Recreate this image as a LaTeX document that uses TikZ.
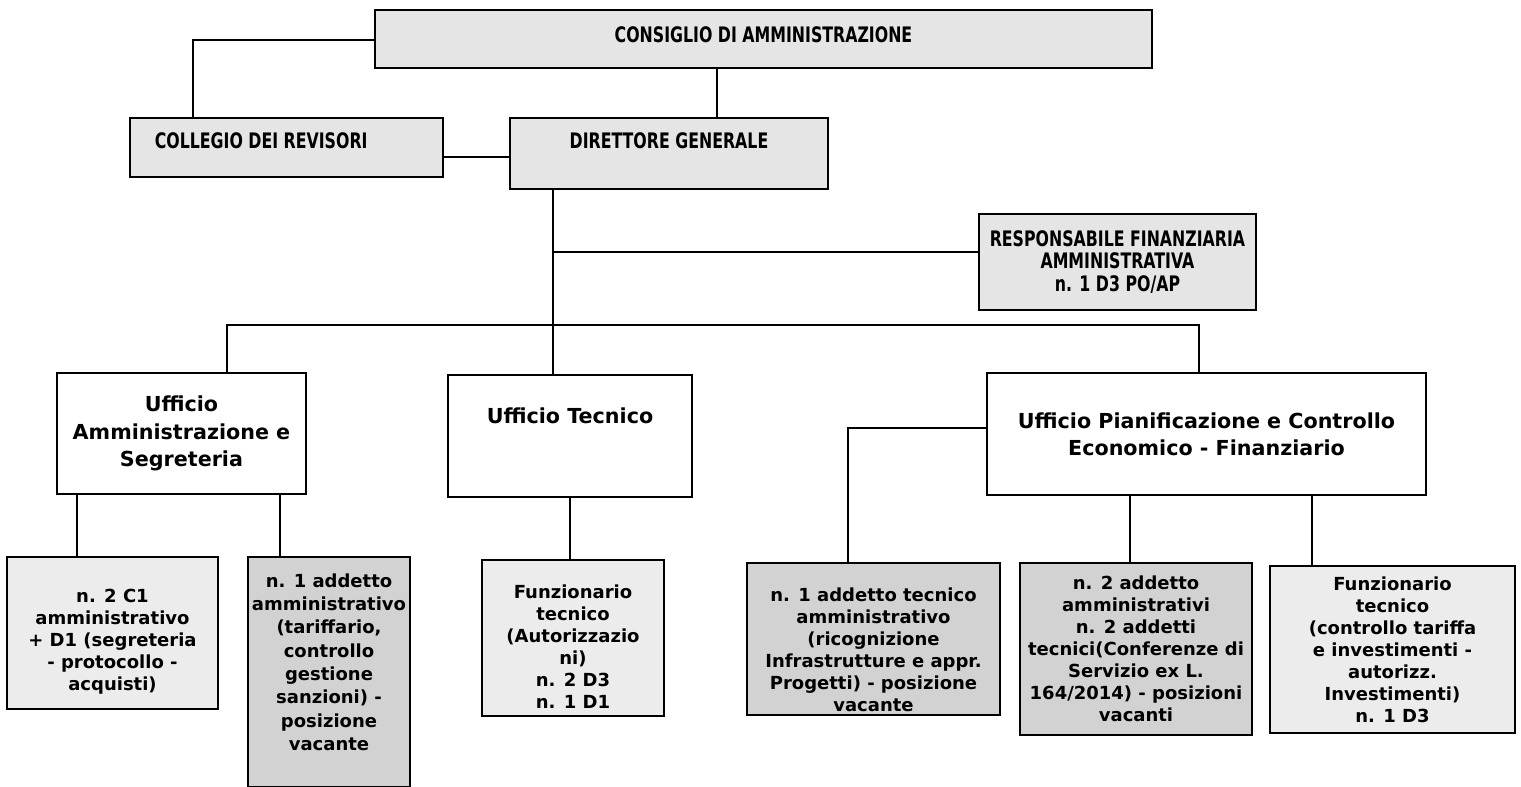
\documentclass[tikz,border=0pt]{standalone}
\usepackage{fontspec}
\setmainfont{DejaVu Sans}
\newfontfamily\hdfont{DejaVu Sans}[FakeStretch=0.74]
\newcommand{\dnstrut}[1]{\rule{0pt}{#1}}
\newcommand{\upstrut}[1]{\rule[-#1]{0pt}{#1}}
\begin{document}
\begin{tikzpicture}[x=0.75pt,y=-0.75pt,
  hd/.style={draw, line width=1.8pt, fill=gray!20, font=\hdfont\bfseries\fontsize{16}{17}\selectfont, inner sep=0pt},
  hdm/.style={hd, align=center, font=\hdfont\bfseries\fontsize{16}{17}\selectfont},
  off/.style={draw, line width=2pt, fill=white, font=\bfseries\fontsize{15.5}{20.5}\selectfont, align=center, inner sep=0pt},
  offs/.style={draw, line width=2pt, fill=white, font=\bfseries\fontsize{15.5}{20.5}\selectfont, inner sep=0pt},
  lt/.style={draw, line width=1.9pt, fill=gray!15, font=\bfseries\fontsize{13.5}{16.5}\selectfont, align=center, inner sep=0pt},
  dk/.style={lt, fill=gray!35},
  wire/.style={line width=1.5pt}]
\useasboundingbox (0,0) rectangle (1521,787);

% top level
\node[hd, minimum width=582.75pt, text height=24.75pt, text depth=18.75pt] (cons) at (763.5,39) {CONSIGLIO DI AMMINISTRAZIONE};
\node[hd, minimum width=234.75pt, text height=23.25pt, text depth=21pt] (coll) at (286.5,147.5) {COLLEGIO DEI REVISORI\hspace*{38pt}};
\node[hd, minimum width=238.5pt, text height=23.25pt, text depth=30pt] (dir) at (669,153.5) {DIRETTORE GENERALE};
\node[hdm, minimum width=207.75pt, minimum height=72pt] (resp) at (1117.5,262) {RESPONSABILE FINANZIARIA\\AMMINISTRATIVA\\n. 1 D3 PO/AP};

% offices
\node[off, minimum width=186.75pt, minimum height=90.75pt] (uam) at (181.5,433.5) {Ufficio\\Amministrazione e\\Segreteria};
\node[offs, minimum width=183pt, text height=36.4pt, text depth=55.1pt] (utec) at (570,436) {Ufficio Tecnico};
\node[off, minimum width=329.25pt, minimum height=91.5pt] (upian) at (1206.5,434) {Ufficio Pianificazione e Controllo\\Economico - Finanziario};

% staff boxes
\node[lt, minimum width=158.25pt, minimum height=114pt] (b1) at (112.5,633) {\dnstrut{23.5pt}n. 2 C1\\amministrativo\\+ D1 (segreteria\\- protocollo -\\acquisti)};
\node[dk, minimum width=121.5pt, minimum height=172.5pt, font=\bfseries\fontsize{13.5}{17.5}\selectfont] (b2) at (329,672) {n. 1 addetto\\amministrativo\\(tariffario,\\controllo\\gestione\\sanzioni) -\\posizione\\vacante\upstrut{15pt}};
\node[lt, minimum width=136.5pt, minimum height=117pt] (b3) at (573,638) {\dnstrut{23.5pt}Funzionario\\tecnico\\(Autorizzazio\\ni)\\n. 2 D3\\n. 1 D1};
\node[dk, minimum width=189.75pt, minimum height=114pt] (b4) at (873.5,639) {\dnstrut{26.5pt}n. 1 addetto tecnico\\amministrativo\\(ricognizione\\Infrastrutture e appr.\\Progetti) - posizione\\vacante};
\node[dk, minimum width=174pt, minimum height=129pt] (b5) at (1136,649) {n. 2 addetto\\amministrativi\\n. 2 addetti\\tecnici(Conferenze di\\Servizio ex L.\\164/2014) - posizioni\\vacanti};
\node[lt, minimum width=183.75pt, minimum height=125.25pt] (b6) at (1392.5,649.5) {Funzionario\\tecnico\\(controllo tariffa\\e investimenti -\\autorizz.\\Investimenti)\\n. 1 D3};

% connectors
\coordinate (c1) at (193,40);
\draw[wire] (cons.west |- c1) -| (coll.north -| c1);
\coordinate (c2) at (717,0);
\draw[wire] (cons.south -| c2) -- (dir.north -| c2);
\coordinate (c3) at (0,157);
\draw[wire] (coll.east |- c3) -- (dir.west |- c3);
\coordinate (tr) at (553,252);
\draw[wire] (dir.south -| tr) -- (utec.north -| tr);
\draw[wire] (tr) -- (resp.west |- tr);
\coordinate (busL) at (227,325);
\coordinate (busR) at (1199,325);
\draw[wire] (uam.north -| busL) -- (busL) -- (busR) -- (upian.north -| busR);
\coordinate (a1) at (77,0);
\draw[wire] (uam.south -| a1) -- (b1.north -| a1);
\coordinate (a2) at (280,0);
\draw[wire] (uam.south -| a2) -- (b2.north -| a2);
\draw[wire] (utec.south) -- (utec.south |- b3.north);
\coordinate (p1) at (848,428);
\draw[wire] (upian.west |- p1) -| (b4.north -| p1);
\coordinate (p2) at (1130,0);
\draw[wire] (upian.south -| p2) -- (b5.north -| p2);
\coordinate (p3) at (1312,0);
\draw[wire] (upian.south -| p3) -- (b6.north -| p3);
\end{tikzpicture}
\end{document}
